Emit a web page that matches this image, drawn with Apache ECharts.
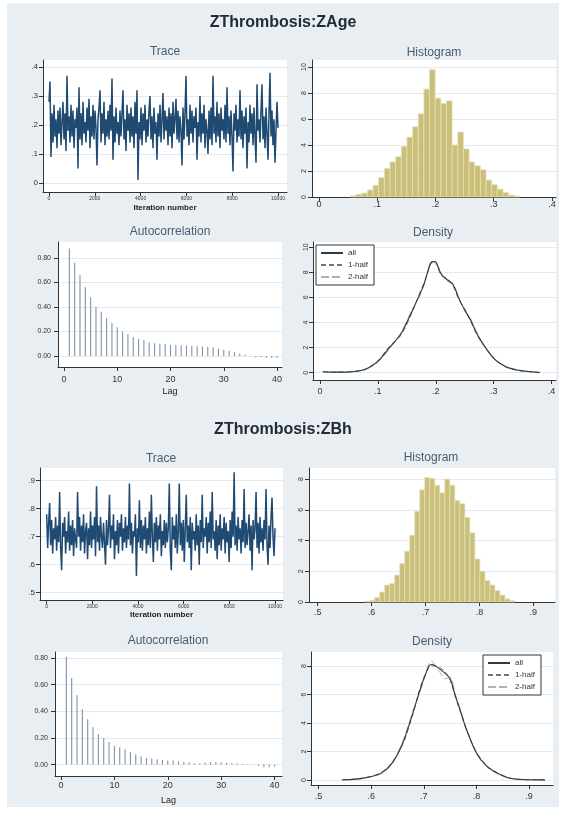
<!DOCTYPE html>
<html><head><meta charset="utf-8">
<script src="https://cdn.jsdelivr.net/npm/echarts@6/dist/echarts.min.js"></script>
<style>html,body{margin:0;padding:0;background:#fff;} #c{width:562px;height:814px;}</style>
</head><body><div id="c"></div>
<script>
// ---------------- DATA ----------------
const traceIterMax = 10000;
const traceAge = [
0.28,0.35,0.09,0.24,0.14,0.27,0.16,0.22,0.12,0.25,
0.17,0.26,0.13,0.21,0.28,0.15,0.24,0.11,0.37,0.18,
0.23,0.14,0.27,0.16,0.25,0.12,0.22,0.19,0.26,0.05,
0.33,0.15,0.24,0.13,0.28,0.17,0.21,0.14,0.26,0.18,
0.29,0.12,0.23,0.16,0.27,0.15,0.25,0.19,0.06,0.22,
0.26,0.32,0.14,0.24,0.17,0.28,0.13,0.22,0.16,0.25,
0.15,0.27,0.18,0.36,0.08,0.23,0.14,0.26,0.17,0.21,
0.13,0.25,0.16,0.24,0.32,0.15,0.22,0.11,0.27,0.18,
0.24,0.14,0.26,0.16,0.23,0.12,0.28,0.17,0.32,0.01,
0.21,0.15,0.26,0.13,0.24,0.18,0.27,0.14,0.22,0.16,
0.25,0.30,0.15,0.23,0.12,0.26,0.17,0.21,0.08,0.24,
0.16,0.27,0.14,0.22,0.31,0.15,0.25,0.18,0.23,0.13,
0.26,0.16,0.24,0.12,0.28,0.17,0.22,0.29,0.15,0.25,
0.14,0.23,0.18,0.06,0.26,0.15,0.24,0.37,0.16,0.22,
0.13,0.27,0.17,0.25,0.14,0.23,0.19,0.26,0.08,0.21,
0.16,0.30,0.14,0.24,0.17,0.27,0.12,0.22,0.18,0.10,
0.25,0.15,0.26,0.13,0.37,0.17,0.23,0.14,0.28,0.16,
0.24,0.12,0.26,0.18,0.22,0.15,0.27,0.14,0.33,0.17,
0.23,0.13,0.25,0.16,0.04,0.24,0.18,0.27,0.14,0.22,
0.16,0.32,0.15,0.25,0.12,0.23,0.17,0.26,0.05,0.21,
0.14,0.27,0.17,0.24,0.13,0.26,0.16,0.07,0.34,0.18,
0.22,0.14,0.25,0.34,0.15,0.23,0.12,0.26,0.17,0.08,
0.24,0.38,0.16,0.25,0.13,0.22,0.07,0.18,0.28,0.19];
const traceBh = [
0.78,0.66,0.75,0.82,0.67,0.76,0.64,0.73,0.69,0.77,
0.65,0.74,0.68,0.86,0.66,0.58,0.75,0.70,0.77,0.64,
0.72,0.68,0.79,0.65,0.74,0.67,0.76,0.63,0.73,0.69,
0.66,0.86,0.70,0.77,0.65,0.74,0.68,0.78,0.64,0.72,
0.75,0.62,0.73,0.67,0.79,0.66,0.74,0.69,0.77,0.63,
0.88,0.68,0.74,0.65,0.77,0.70,0.66,0.75,0.68,0.60,
0.76,0.67,0.73,0.85,0.66,0.74,0.69,0.78,0.62,0.72,
0.67,0.76,0.64,0.75,0.70,0.78,0.65,0.73,0.68,0.77,
0.66,0.74,0.69,0.89,0.67,0.75,0.64,0.72,0.70,0.78,
0.56,0.73,0.68,0.83,0.66,0.76,0.65,0.74,0.69,0.77,
0.64,0.73,0.67,0.79,0.66,0.85,0.70,0.61,0.75,0.68,
0.77,0.65,0.74,0.69,0.78,0.63,0.72,0.67,0.76,0.66,
0.75,0.68,0.73,0.89,0.65,0.58,0.77,0.69,0.74,0.66,
0.78,0.64,0.72,0.89,0.67,0.75,0.65,0.76,0.61,0.73,
0.85,0.68,0.74,0.66,0.77,0.58,0.75,0.69,0.72,0.65,
0.78,0.67,0.74,0.60,0.76,0.68,0.85,0.66,0.73,0.70,
0.77,0.64,0.75,0.68,0.79,0.66,0.86,0.69,0.72,0.65,
0.76,0.62,0.74,0.67,0.78,0.65,0.73,0.69,0.77,0.64,
0.75,0.68,0.72,0.61,0.76,0.66,0.79,0.70,0.93,0.67,
0.74,0.65,0.77,0.69,0.73,0.64,0.76,0.68,0.87,0.66,
0.75,0.67,0.72,0.78,0.65,0.74,0.58,0.76,0.69,0.73,
0.86,0.66,0.75,0.64,0.77,0.68,0.73,0.65,0.76,0.69,
0.87,0.67,0.60,0.74,0.66,0.77,0.84,0.70,0.63,0.73];

const histAgeStart = 0.054, histAgeWidth = 0.0097;
const histAgeHeights = [0.08,0.2,0.3,0.55,0.9,1.5,2.2,2.7,3.1,3.9,4.6,5.4,6.4,8.3,9.8,7.6,7.2,7.4,4.0,5.0,3.7,2.7,2.4,2.1,1.3,0.95,0.6,0.35,0.15,0.05];
const histBhStart = 0.587, histBhWidth = 0.0093;
const histBhHeights = [0.05,0.1,0.3,0.65,1.1,1.2,1.75,2.5,3.3,4.35,5.9,7.3,8.1,8.05,7.6,7.1,8.0,7.6,6.6,6.4,5.5,4.5,2.8,2.0,1.4,1.1,0.75,0.45,0.2,0.08];

const acfAge = [0.876,0.76,0.66,0.56,0.48,0.40,0.36,0.31,0.27,0.235,0.20,0.18,0.155,0.14,0.13,0.11,0.105,0.10,0.095,0.09,0.09,0.088,0.085,0.083,0.08,0.078,0.075,0.07,0.06,0.05,0.04,0.03,0.02,0.01,0.0,-0.01,-0.01,-0.015,-0.015,-0.015];
const acfBh = [0.81,0.65,0.52,0.415,0.34,0.28,0.23,0.20,0.17,0.14,0.13,0.115,0.095,0.075,0.06,0.05,0.045,0.04,0.035,0.03,0.03,0.025,0.02,0.015,0.01,0.01,0.015,0.02,0.02,0.015,0.015,0.01,0.01,0.005,0.005,0.0,-0.01,-0.02,-0.02,-0.015];

const densAgeX  = [0.005,0.02,0.04,0.06,0.08,0.10,0.12,0.14,0.16,0.17,0.18,0.19,0.195,0.20,0.205,0.21,0.22,0.23,0.24,0.25,0.26,0.27,0.28,0.30,0.32,0.34,0.36,0.38];
const densAgeAll = [0.08,0.05,0.05,0.1,0.3,0.9,2.0,3.1,5.0,6.0,7.1,8.6,8.85,8.8,8.3,7.8,7.4,7.0,5.9,5.0,4.2,3.2,2.4,1.15,0.5,0.22,0.1,0.02];
const densAgeH1  = [0.06,0.04,0.06,0.12,0.33,0.95,2.1,3.0,4.9,6.1,7.2,8.5,8.9,8.85,8.2,7.7,7.5,6.9,5.8,5.1,4.1,3.1,2.35,1.2,0.48,0.2,0.08,0.02];
const densAgeH2  = [0.1,0.06,0.04,0.08,0.27,0.85,1.9,3.2,5.1,5.9,7.0,8.7,8.8,8.75,8.4,7.9,7.3,7.1,6.0,4.9,4.3,3.3,2.45,1.1,0.52,0.24,0.12,0.02];
const densBhX   = [0.545,0.56,0.58,0.60,0.62,0.64,0.66,0.68,0.69,0.70,0.71,0.715,0.72,0.73,0.74,0.75,0.76,0.77,0.78,0.80,0.82,0.84,0.86,0.88,0.90,0.93];
const densBhAll = [0.02,0.03,0.1,0.24,0.5,1.2,2.6,4.8,6.0,7.1,8.0,8.1,8.05,7.8,7.5,7.1,5.9,4.8,3.65,1.9,0.95,0.47,0.16,0.05,0.02,0.01];
const densBhH1  = [0.02,0.04,0.12,0.26,0.55,1.25,2.5,4.7,6.1,7.2,7.9,8.0,8.0,7.9,7.6,7.0,5.8,4.7,3.6,1.95,1.0,0.5,0.17,0.05,0.02,0.01];
const densBhH2  = [0.02,0.03,0.09,0.22,0.46,1.15,2.7,4.9,5.9,7.0,8.2,8.35,8.1,7.6,7.1,7.2,6.0,4.9,3.7,1.85,0.9,0.45,0.15,0.05,0.02,0.01];

const traceXTicks = [0,2000,4000,6000,8000,10000];
const traceAgeYTicks = [0,0.1,0.2,0.3,0.4];
const traceBhYTicks = [0.5,0.6,0.7,0.8,0.9];
const ageXTicks = [0,0.1,0.2,0.3,0.4];
const bhXTicks = [0.5,0.6,0.7,0.8,0.9];
const histAgeYTicks = [0,2,4,6,8,10];
const histBhYTicks = [0,2,4,6,8];
const acfXTicks = [0,10,20,30,40];
const acfYTicks = [0,0.2,0.4,0.6,0.8];
const densAgeYTicks = [0,2,4,6,8,10];
const densBhYTicks = [0,2,4,6,8];
const densNames = ['all','1-half','2-half'];
const panelTitles = ['ZThrombosis:ZAge','ZThrombosis:ZBh'];
const subTitles = ['Trace','Histogram','Autocorrelation','Density'];

// ---------------- STYLE / LAYOUT ----------------
const FONT = 'Liberation Sans, Arial, sans-serif';
const AXC = '#333';
const GRIDC = '#e3e9ee';
const fmtDot = v => { if (Math.abs(v) < 1e-9) return '0'; return String(+v.toFixed(2)).replace(/^0\./,'.'); };
const fmtInt = v => String(Math.round(v));
const fmt2 = v => v.toFixed(2);

const grids = [
  {left:43, top:60, width:244, height:132},
  {left:312, top:60, width:244, height:137},
  {left:58, top:242, width:224, height:125},
  {left:313, top:242, width:243, height:138},
  {left:40, top:468, width:243, height:132},
  {left:309, top:468, width:246, height:134},
  {left:55, top:652, width:227, height:124},
  {left:311, top:652, width:242, height:133}
].map(g => Object.assign({show:true, backgroundColor:'#fff', borderWidth:0}, g));

function axis(idx, min, max, ticks, fmt, o) {
  o = o || {};
  return {
    type:'value', gridIndex: idx, min, max, scale:true,
    name: o.name || '', nameLocation:'middle', nameGap: o.nameGap || 12,
    nameTextStyle: {fontSize: o.nameSize || 8, fontWeight: o.nameWeight || 'bold', color:'#222', fontFamily: FONT},
    axisLine: {show:true, onZero:false, lineStyle:{color:AXC, width:1}},
    axisTick: {show:true, length:4, customValues: ticks, lineStyle:{color:AXC}},
    axisLabel: {customValues: ticks, formatter: fmt, fontSize: o.fs || 8, color:'#333', margin: o.margin || 6, rotate: o.rotate || 0, fontFamily: FONT},
    splitLine: {show: !!o.split, lineStyle:{color:GRIDC, width:1}}
  };
}

const xAxes = [
  axis(0, -262, 10393, traceXTicks, fmtInt, {fs:5, margin:4, name:'Iteration number', nameGap:12, nameSize:8}),
  axis(1, -0.012, 0.4069, ageXTicks, fmtDot, {fs:9, margin:3}),
  axis(2, -1.13, 40.94, acfXTicks, fmtInt, {fs:9, margin:8, name:'Lag', nameGap:20, nameSize:9, nameWeight:'normal'}),
  axis(3, -0.012, 0.4076, ageXTicks, fmtDot, {fs:9, margin:7}),
  axis(4, -292, 10350, traceXTicks, fmtInt, {fs:5, margin:4, name:'Iteration number', nameGap:11, nameSize:8}),
  axis(5, 0.4838, 0.9403, bhXTicks, fmtDot, {fs:9, margin:6}),
  axis(6, -1.125, 41.4, acfXTicks, fmtInt, {fs:9, margin:5, name:'Lag', nameGap:20, nameSize:9, nameWeight:'normal'}),
  axis(7, 0.4856, 0.9455, bhXTicks, fmtDot, {fs:9, margin:7})
];
const yAxes = [
  axis(0, -0.031, 0.424, traceAgeYTicks, fmtDot, {fs:8, margin:5, split:true}),
  axis(1, 0, 10.54, histAgeYTicks, fmtInt, {fs:7, margin:4, rotate:90, split:true}),
  axis(2, -0.09, 0.93, acfYTicks, fmt2, {fs:7, margin:7, split:true}),
  axis(3, -0.58, 10.41, densAgeYTicks, fmtInt, {fs:7, margin:3, rotate:90, split:true}),
  axis(4, 0.474, 0.9455, traceBhYTicks, fmtDot, {fs:8, margin:5, split:true}),
  axis(5, 0, 8.72, histBhYTicks, fmtInt, {fs:7, margin:4, rotate:90, split:true}),
  axis(6, -0.0855, 0.845, acfYTicks, fmt2, {fs:7, margin:7, split:true}),
  axis(7, -0.35, 8.98, densBhYTicks, fmtInt, {fs:7, margin:3, rotate:90, split:true})
];

function histRender(params, api) {
  const p0 = api.coord([api.value(0), 0]);
  const p1 = api.coord([api.value(1), api.value(2)]);
  return {type:'rect', shape:{x:p0[0], y:p1[1], width:p1[0]-p0[0], height:p0[1]-p1[1]},
    style:{fill:'#cbc07a', stroke:'#e6e1bb', lineWidth:0.7}};
}
function acfRender(params, api) {
  const a = api.coord([api.value(0), 0]);
  const b = api.coord([api.value(0), api.value(1)]);
  return {type:'line', shape:{x1:a[0], y1:a[1], x2:b[0], y2:b[1]},
    style:{stroke:'#7f93aa', lineWidth:1.1}};
}

const series = [];
function addTrace(idx, vals) {
  series.push({type:'line', xAxisIndex:idx, yAxisIndex:idx, symbol:'none', showSymbol:false, silent:true,
    data: vals.map((v,i) => [i*traceIterMax/(vals.length-1), v]),
    lineStyle:{color:'#1f4a72', width:1.5}});
}
function addHist(idx, start, w, hs) {
  series.push({type:'custom', xAxisIndex:idx, yAxisIndex:idx, renderItem: histRender, silent:true,
    encode:{x:[0,1], y:2}, data: hs.map((h,i) => [start+i*w, start+(i+1)*w, h])});
}
function addAcf(idx, vals) {
  series.push({type:'custom', xAxisIndex:idx, yAxisIndex:idx, renderItem: acfRender, silent:true,
    encode:{x:0, y:1}, data: vals.map((v,i) => [i+1, v])});
}
const densStyles = [
  {color:'#2c3a47', width:1.1, type:'solid'},
  {color:'#6f7c70', width:1, type:[5,3]},
  {color:'#aab4b0', width:1, type:[8,3]}
];
function addDens(idx, xs, arrs) {
  arrs.forEach((ys, k) => {
    series.push({type:'line', name: densNames[k], xAxisIndex:idx, yAxisIndex:idx, symbol:'none', showSymbol:false,
      smooth:0.3, silent:true, z: 3-k,
      data: xs.map((x,i) => [x, ys[i]]),
      lineStyle: densStyles[k], itemStyle:{color: densStyles[k].color}});
  });
}
addTrace(0, traceAge);
addHist(1, histAgeStart, histAgeWidth, histAgeHeights);
addAcf(2, acfAge);
addDens(3, densAgeX, [densAgeAll, densAgeH1, densAgeH2]);
addTrace(4, traceBh);
addHist(5, histBhStart, histBhWidth, histBhHeights);
addAcf(6, acfBh);
addDens(7, densBhX, [densBhAll, densBhH1, densBhH2]);

function ttl(text, x, y, size, bold, color) {
  return {text, left:x, top:y, textAlign:'center', padding:0,
    textStyle:{fontSize:size, fontWeight: bold ? 'bold' : 'normal', color, fontFamily: FONT}};
}
const titles = [
  ttl(panelTitles[0], 283, 15, 16, true, '#222b36'),
  ttl(panelTitles[1], 283, 422, 16, true, '#222b36'),
  ttl(subTitles[0], 165, 46, 12, false, '#4a5b70'),
  ttl(subTitles[1], 434, 47, 12, false, '#4a5b70'),
  ttl(subTitles[2], 170, 226, 12, false, '#4a5b70'),
  ttl(subTitles[3], 433, 227, 12, false, '#4a5b70'),
  ttl(subTitles[0], 161, 453, 12, false, '#4a5b70'),
  ttl(subTitles[1], 431, 452, 12, false, '#4a5b70'),
  ttl(subTitles[2], 168, 635, 12, false, '#4a5b70'),
  ttl(subTitles[3], 432, 636, 12, false, '#4a5b70')
];
function leg(x, y) {
  return {show:true, orient:'vertical', left:x, top:y, data: densNames, selectedMode:false,
    itemWidth:22, itemHeight:8, itemGap:4, padding:[4,6,4,4],
    itemStyle:{opacity:0}, 
    backgroundColor:'#fff', borderColor:'#333', borderWidth:1,
    textStyle:{fontSize:8, color:'#333', fontFamily: FONT}};
}

const chart = echarts.init(document.getElementById('c'), null, {renderer:'canvas'});
chart.setOption({
  animation:false,
  backgroundColor:'#fff',
  graphic:[{type:'rect', shape:{x:7, y:3, width:552, height:804}, style:{fill:'#e8eef2'}, z:-10, silent:true}],
  title: titles,
  legend: [leg(316, 245), leg(483, 655)],
  grid: grids,
  xAxis: xAxes,
  yAxis: yAxes,
  series
});
</script></body></html>
